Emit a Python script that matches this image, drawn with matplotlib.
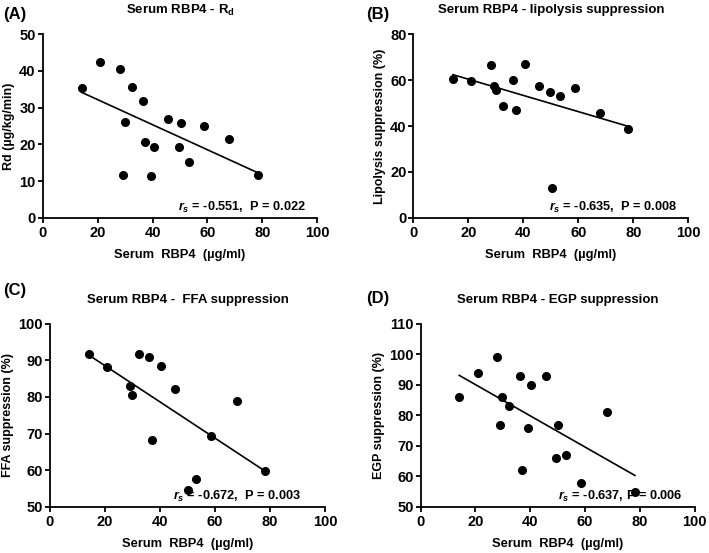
import numpy as np
import matplotlib
matplotlib.use("Agg")
import matplotlib.pyplot as plt

plt.rcParams['font.family'] = ['Liberation Sans', 'DejaVu Sans']
plt.rcParams['font.weight'] = 'bold'
plt.rcParams['mathtext.fontset'] = 'custom'
plt.rcParams['mathtext.rm'] = 'Liberation Sans:bold'
plt.rcParams['mathtext.it'] = 'Liberation Sans:bold:italic'
plt.rcParams['mathtext.bf'] = 'Liberation Sans:bold'

# ---- data ----
# (A) Rd
rbp4_a = [14.4, 21.0, 28.2, 32.4, 36.4, 30.0, 37.3, 40.5, 49.5, 45.8, 50.4,
          58.6, 68.0, 53.3, 29.2, 39.4, 78.3]
rd_a = [35.3, 42.5, 40.5, 35.5, 31.7, 26.0, 20.7, 19.3, 19.3, 26.9, 25.9,
        24.9, 21.5, 15.1, 11.7, 11.5, 11.6]

# (B) lipolysis suppression
rbp4_b = [14.4, 21.1, 28.1, 29.3, 30.1, 32.6, 36.4, 37.3, 40.7, 45.8, 49.6,
          50.3, 53.2, 58.7, 68.0, 78.2]
lipo_b = [60.3, 59.6, 66.6, 57.3, 55.7, 48.6, 60.0, 46.8, 67.0, 57.6, 54.8,
          12.9, 53.2, 56.4, 45.8, 38.8]

# (C) FFA suppression
rbp4_c = [14.2, 20.8, 29.1, 29.8, 32.2, 36.1, 40.4, 37.2, 45.6, 50.2, 53.1,
          58.4, 67.9, 78.1]
ffa_c = [91.6, 88.1, 82.9, 80.5, 91.6, 90.8, 88.5, 68.3, 82.3, 54.6, 57.5,
         69.2, 78.9, 59.7]

# (D) EGP suppression
rbp4_d = [14.1, 20.8, 28.0, 29.7, 29.0, 32.2, 36.1, 40.4, 39.2, 37.1, 45.6,
          50.2, 49.3, 53.0, 58.6, 67.9, 78.2]
egp_d = [86.0, 93.8, 98.9, 86.0, 76.8, 82.9, 92.9, 89.9, 75.9, 61.9, 92.9,
         76.9, 65.8, 66.9, 57.9, 80.9, 54.9]

panels = [
    dict(x=rbp4_a, y=rd_a, tag='(A)', title='Serum RBP4 - R$_\\mathrm{d}$',
         ylabel='Rd (µg/kg/min)', ylim=(0, 50), yticks=[0, 10, 20, 30, 40, 50],
         stat='$r_s$ = -0.551,  P = 0.022', sx=0.958,
         pos=[0.0602, 0.6063, 0.3873, 0.3317], tagxy=(3, 14)),
    dict(x=rbp4_b, y=lipo_b, tag='(B)', title='Serum RBP4 - lipolysis suppression',
         ylabel='Lipolysis suppression (%)', ylim=(0, 80), yticks=[0, 20, 40, 60, 80],
         stat='$r_s$ = -0.635,  P = 0.008', sx=0.959,
         pos=[0.5830, 0.6063, 0.3879, 0.3317], tagxy=(366, 14)),
    dict(x=rbp4_c, y=ffa_c, tag='(C)', title='Serum RBP4 -  FFA suppression',
         ylabel='FFA suppression (%)', ylim=(50, 100), yticks=[50, 60, 70, 80, 90, 100],
         stat='$r_s$ = -0.672,  P = 0.003', sx=0.913,
         pos=[0.0705, 0.0837, 0.3879, 0.3309], tagxy=(3, 291)),
    dict(x=rbp4_d, y=egp_d, tag='(D)', title='Serum RBP4 - EGP suppression',
         ylabel='EGP suppression (%)', ylim=(50, 110), yticks=[50, 60, 70, 80, 90, 100, 110],
         stat='$r_s$ = -0.637, P = 0.006', sx=0.957,
         pos=[0.5933, 0.0837, 0.3865, 0.3311], tagxy=(366, 298)),
]

W, H = 709, 553
fig = plt.figure(figsize=(W / 100, H / 100), dpi=100)

for p in panels:
    ax = fig.add_axes(p['pos'])
    x = np.array(p['x'])
    y = np.array(p['y'])
    ax.plot(x, y, 'o', color='black', markersize=5.5, clip_on=False, zorder=3)
    k, b = np.polyfit(x, y, 1)
    xs = np.array([x.min(), x.max()])
    ax.plot(xs, k * xs + b, color='black', linewidth=1.2)

    ax.set_xlim(0, 100)
    ax.set_ylim(*p['ylim'])
    ax.set_xticks([0, 20, 40, 60, 80, 100])
    ax.set_yticks(p['yticks'])
    for s in ['top', 'right']:
        ax.spines[s].set_visible(False)
    for s in ['left', 'bottom']:
        ax.spines[s].set_linewidth(1.3)
    ax.tick_params(direction='out', length=3.8, width=1.3, labelsize=10.5)
    ax.tick_params(axis='x', pad=2)
    ax.tick_params(axis='y', pad=1.2)
    for lab in ax.get_xticklabels() + ax.get_yticklabels():
        lab.set_fontweight('bold')

    ax.set_xlabel('Serum  RBP4  (µg/ml)', fontsize=9.3, fontweight='bold', labelpad=7)
    ax.set_ylabel(p['ylabel'], fontsize=9, fontweight='bold', labelpad=3)
    ax.set_title(p['title'], fontsize=9.5, fontweight='bold', pad=15)
    ax.text(p['sx'], 0.058, p['stat'], transform=ax.transAxes, ha='right',
            va='center', fontsize=9.2, fontweight='bold')

    tx, ty = p['tagxy']
    fig.text(tx / W, 1 - ty / H, p['tag'], fontsize=12, fontweight='bold',
             ha='left', va='center')

fig.savefig('out.png', dpi=100)
